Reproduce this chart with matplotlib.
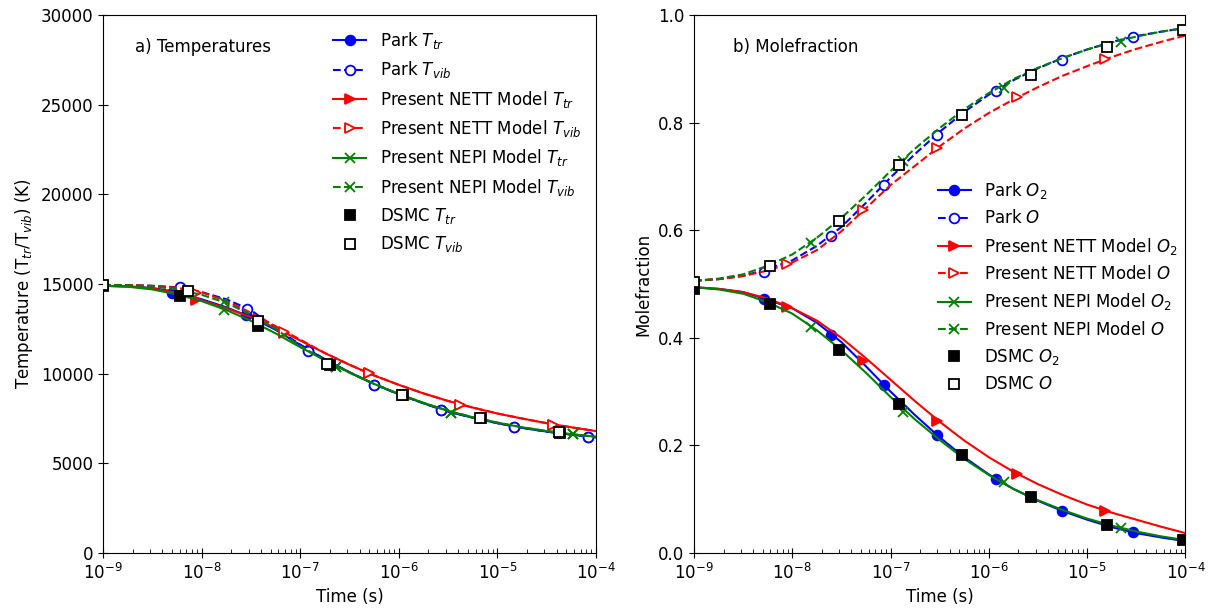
import numpy as np
import matplotlib
matplotlib.use('Agg')
import matplotlib.pyplot as plt
from matplotlib.lines import Line2D

plt.rcParams.update({
    'font.family': 'DejaVu Sans',
    'font.size': 12,
    'mathtext.fontset': 'dejavusans',
})

# common time grid for the curves (s)
t_grid = [1e-9, 1.78e-9, 3.16e-9, 5.62e-9, 1e-8, 1.78e-8, 3.16e-8, 5.62e-8, 1e-7, 1.78e-7,
          3.16e-7, 5.62e-7, 1e-6, 1.78e-6, 3.16e-6, 5.62e-6, 1e-5, 1.78e-5, 3.16e-5, 5.62e-5, 1e-4]

# ---- a) temperatures (K) ----
park_ttr = [14900, 14870, 14780, 14550, 14150, 13700, 13150, 12450, 11600, 10800,
            10080, 9420, 8850, 8350, 7880, 7550, 7240, 6980, 6770, 6600, 6450]
park_tvib = [14950, 14940, 14900, 14820, 14550, 14150, 13550, 12550, 11620, 10800,
             10080, 9420, 8850, 8350, 7880, 7550, 7240, 6980, 6770, 6600, 6450]
nett_ttr = [14900, 14870, 14760, 14500, 14100, 13650, 13150, 12550, 11850, 11150,
            10500, 9900, 9380, 8900, 8480, 8110, 7780, 7500, 7240, 7010, 6800]
nett_tvib = [14950, 14940, 14900, 14800, 14550, 14050, 13400, 12650, 11900, 11150,
             10500, 9900, 9380, 8900, 8480, 8110, 7780, 7500, 7240, 7010, 6800]
nepi_ttr = [14900, 14850, 14700, 14420, 14050, 13550, 12950, 12250, 11480, 10750,
            10060, 9430, 8870, 8370, 7930, 7570, 7270, 7010, 6800, 6630, 6480]
nepi_tvib = [14950, 14930, 14870, 14700, 14400, 13950, 13300, 12500, 11550, 10750,
             10060, 9430, 8870, 8370, 7930, 7570, 7270, 7010, 6800, 6630, 6480]

# marker positions, temperatures
park_t_mk_ttr = [5.0e-9, 2.8e-8, 1.19e-7, 5.6e-7, 2.7e-6, 1.48e-5, 8.3e-5]
park_ttr_mk = [14500, 13300, 11300, 9360, 7960, 7030, 6480]
park_t_mk_tvib = [6.0e-9, 2.9e-8, 1.19e-7, 5.6e-7, 2.7e-6, 1.48e-5, 8.3e-5]
park_tvib_mk = [14810, 13630, 11290, 9360, 7960, 7030, 6480]
nett_t_mk = [8.8e-9, 6.9e-8, 5.0e-7, 4.2e-6, 3.7e-5]
nett_ttr_mk = [14135, 12270, 10015, 8241, 7137]
nett_tvib_mk = [14509, 12318, 10015, 8241, 7137]
nepi_t_mk = [1.7e-8, 2.3e-7, 3.4e-6, 5.9e-5]
nepi_ttr_mk = [13572, 10355, 7829, 6613]
nepi_tvib_mk = [14001, 10370, 7829, 6613]
dsmc_t_ttr = [1.0e-9, 6.0e-9, 3.7e-8, 2.0e-7, 1.1e-6, 6.8e-6, 4.3e-5]
dsmc_ttr = [14900, 14319, 12635, 10505, 8790, 7520, 6720]
dsmc_t_tvib = [1.0e-9, 7.2e-9, 3.7e-8, 1.86e-7, 1.09e-6, 6.6e-6, 4.2e-5]
dsmc_tvib = [14938, 14604, 12920, 10539, 8799, 7544, 6741]

# ---- b) mole fractions ----
park_o2 = [0.494, 0.491, 0.485, 0.471, 0.455, 0.428, 0.392, 0.347, 0.300, 0.256, 0.215,
           0.178, 0.146, 0.119, 0.097, 0.078, 0.062, 0.048, 0.037, 0.029, 0.022]
park_o = [0.506, 0.509, 0.515, 0.528, 0.544, 0.571, 0.606, 0.651, 0.698, 0.742, 0.783,
          0.820, 0.852, 0.879, 0.901, 0.920, 0.936, 0.950, 0.961, 0.969, 0.976]
nett_o2 = [0.494, 0.491, 0.485, 0.473, 0.455, 0.432, 0.400, 0.362, 0.322, 0.282, 0.244,
           0.209, 0.178, 0.151, 0.128, 0.108, 0.090, 0.075, 0.062, 0.049, 0.037]
nett_o = [0.506, 0.509, 0.515, 0.525, 0.540, 0.563, 0.598, 0.641, 0.684, 0.720, 0.756,
          0.789, 0.818, 0.843, 0.866, 0.887, 0.905, 0.922, 0.937, 0.950, 0.962]
nepi_o2 = [0.494, 0.490, 0.482, 0.466, 0.445, 0.414, 0.377, 0.335, 0.290, 0.248, 0.210,
           0.175, 0.145, 0.119, 0.098, 0.080, 0.064, 0.051, 0.040, 0.031, 0.024]
nepi_o = [0.506, 0.510, 0.518, 0.534, 0.555, 0.586, 0.623, 0.665, 0.710, 0.752, 0.790,
          0.825, 0.855, 0.881, 0.902, 0.920, 0.936, 0.949, 0.960, 0.969, 0.976]

park_t_mk_b = [5.1e-9, 2.5e-8, 8.6e-8, 3.0e-7, 1.18e-6, 5.5e-6, 2.9e-5]
park_o2_mk = [0.473, 0.4056, 0.3126, 0.2191, 0.138, 0.0782, 0.0383]
park_o_mk = [0.5227, 0.589, 0.6836, 0.777, 0.858, 0.9156, 0.959]
nett_t_mk_b = [8.9e-9, 5.2e-8, 3.0e-7, 1.94e-6, 1.52e-5]
nett_o2_mk = [0.4574, 0.3576, 0.2454, 0.1474, 0.078]
nett_o_mk = [0.537, 0.637, 0.752, 0.847, 0.919]
nepi_t_mk_b = [1.54e-8, 1.34e-7, 1.41e-6, 2.22e-5]
nepi_o2_mk = [0.42, 0.2615, 0.1321, 0.0461]
nepi_o_mk = [0.5757, 0.729, 0.8644, 0.950]
dsmc_t_b = [1e-9, 6.0e-9, 3.0e-8, 1.21e-7, 5.3e-7, 2.7e-6, 1.6e-5, 9.5e-5]
dsmc_o2 = [0.4916, 0.4636, 0.378, 0.2766, 0.1818, 0.105, 0.052, 0.024]
dsmc_o = [0.504, 0.533, 0.618, 0.721, 0.8145, 0.888, 0.9405, 0.973]

MS = 7


def draw(ax, t, y, tm, ym, color, ls, marker, filled, label):
    ax.plot(t, y, color=color, ls=ls, lw=1.5)
    mfc = color if filled else 'white'
    ax.plot(tm, ym, ls='none', marker=marker, color=color, mfc=mfc, mec=color,
            ms=MS, mew=1.3)
    return Line2D([], [], color=color, ls=ls, lw=1.5, marker=marker, mfc=mfc,
                  mec=color, ms=MS, mew=1.3, label=label)


def dsmc(ax, tm, ym, filled, label):
    mfc = 'black' if filled else 'white'
    ax.plot(tm, ym, ls='none', marker='s', color='black', mfc=mfc, mec='black',
            ms=MS, mew=1.3, zorder=3)
    return Line2D([], [], ls='none', marker='s', mfc=mfc, mec='black', ms=MS,
                  mew=1.3, label=label)


fig = plt.figure(figsize=(12.19, 6.11), dpi=100)
ax1 = fig.add_axes([0.0845, 0.0949, 0.4044, 0.8805])
ax2 = fig.add_axes([0.5693, 0.0949, 0.4032, 0.8805])

# left panel
h = []
h.append(draw(ax1, t_grid, park_ttr, park_t_mk_ttr, park_ttr_mk, 'blue', '-', 'o', True, 'Park $T_{tr}$'))
h.append(draw(ax1, t_grid, park_tvib, park_t_mk_tvib, park_tvib_mk, 'blue', '--', 'o', False, 'Park $T_{vib}$'))
h.append(draw(ax1, t_grid, nett_ttr, nett_t_mk, nett_ttr_mk, 'red', '-', '>', True, 'Present NETT Model $T_{tr}$'))
h.append(draw(ax1, t_grid, nett_tvib, nett_t_mk, nett_tvib_mk, 'red', '--', '>', False, 'Present NETT Model $T_{vib}$'))
h.append(draw(ax1, t_grid, nepi_ttr, nepi_t_mk, nepi_ttr_mk, 'green', '-', 'x', True, 'Present NEPI Model $T_{tr}$'))
h.append(draw(ax1, t_grid, nepi_tvib, nepi_t_mk, nepi_tvib_mk, 'green', '--', 'x', True, 'Present NEPI Model $T_{vib}$'))
h.append(dsmc(ax1, dsmc_t_ttr, dsmc_ttr, True, 'DSMC $T_{tr}$'))
h.append(dsmc(ax1, dsmc_t_tvib, dsmc_tvib, False, 'DSMC $T_{vib}$'))
ax1.legend(handles=h, loc='upper right', frameon=False, bbox_to_anchor=(1.0, 1.0))
ax1.set_ylim(0, 30000)
ax1.set_ylabel('Temperature (T$_{tr}$/T$_{vib}$) (K)')
ax1.text(0.065, 0.94, 'a) Temperatures', transform=ax1.transAxes, va='center')

# right panel
h = []
h.append(draw(ax2, t_grid, park_o2, park_t_mk_b, park_o2_mk, 'blue', '-', 'o', True, 'Park $O_2$'))
h.append(draw(ax2, t_grid, park_o, park_t_mk_b, park_o_mk, 'blue', '--', 'o', False, 'Park $O$'))
h.append(draw(ax2, t_grid, nett_o2, nett_t_mk_b, nett_o2_mk, 'red', '-', '>', True, 'Present NETT Model $O_2$'))
h.append(draw(ax2, t_grid, nett_o, nett_t_mk_b, nett_o_mk, 'red', '--', '>', False, 'Present NETT Model $O$'))
h.append(draw(ax2, t_grid, nepi_o2, nepi_t_mk_b, nepi_o2_mk, 'green', '-', 'x', True, 'Present NEPI Model $O_2$'))
h.append(draw(ax2, t_grid, nepi_o, nepi_t_mk_b, nepi_o_mk, 'green', '--', 'x', True, 'Present NEPI Model $O$'))
h.append(dsmc(ax2, dsmc_t_b, dsmc_o2, True, 'DSMC $O_2$'))
h.append(dsmc(ax2, dsmc_t_b, dsmc_o, False, 'DSMC $O$'))
ax2.legend(handles=h, loc='center right', frameon=False, bbox_to_anchor=(1.015, 0.495))
ax2.set_ylim(0, 1.0)
ax2.set_ylabel('Molefraction')
ax2.text(0.08, 0.94, 'b) Molefraction', transform=ax2.transAxes, va='center')

for ax in (ax1, ax2):
    ax.set_xscale('log')
    ax.set_xlim(1e-9, 1e-4)
    ax.set_xlabel('Time (s)')
    ax.tick_params(which='major', direction='inout', length=7)
    ax.tick_params(which='minor', direction='in', length=3)

fig.savefig('out.png', dpi=100)
